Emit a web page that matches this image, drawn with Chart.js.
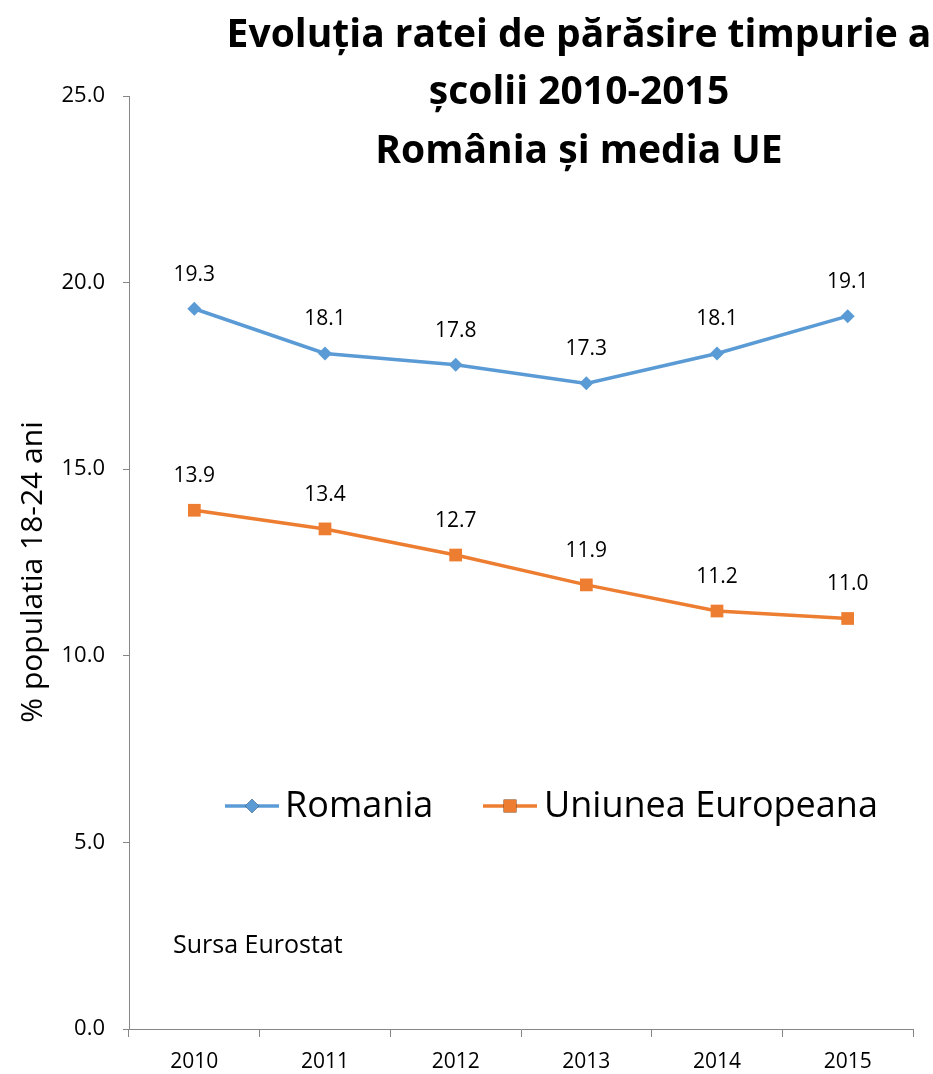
<!DOCTYPE html>
<html>
<head>
<meta charset="utf-8">
<script src="https://cdn.jsdelivr.net/npm/chart.js@4"></script>
<style>
  html, body { margin: 0; padding: 0; background: #ffffff; }
  #wrap { width: 933px; height: 1074px; }
</style>
</head>
<body>
<div id="wrap"><canvas id="chart" width="933" height="1074"></canvas></div>
<script>
// Evolutia ratei de parasire timpurie a scolii, Romania vs UE

const years = ['2010', '2011', '2012', '2013', '2014', '2015'];
const romania = [19.3, 18.1, 17.8, 17.3, 18.1, 19.1];
const ue = [13.9, 13.4, 12.7, 11.9, 11.2, 11.0];
const titleLines = ['Evoluția ratei de părăsire timpurie a', 'școlii 2010-2015', 'România și media UE'];
const seriesNames = ['Romania', 'Uniunea Europeana'];
const yAxisTitle = '% populatia 18-24 ani';
const sourceNote = 'Sursa Eurostat';

const BLUE = '#5B9BD5';
const ORANGE = '#ED7D31';
const FONT = '"Open Sans", Lato, sans-serif';

// --- Title, labels, legend and source note ---

const extras = {
    id: 'extras',
    afterDatasetsDraw(chart) {
        const ctx = chart.ctx;
        ctx.save();

        // value labels above the points
        ctx.fillStyle = '#000';
        ctx.font = '21px ' + FONT;
        ctx.textAlign = 'center';
        ctx.textBaseline = 'middle';
        chart.data.datasets.forEach((ds, i) => {
            chart.getDatasetMeta(i).data.forEach((pt, j) => {
                ctx.fillText(ds.data[j].toFixed(1), pt.x, pt.y - 34);
            });
        });

        // title
        ctx.font = 'bold 39px ' + FONT;
        ctx.textBaseline = 'alphabetic';
        const baselines = [47, 104, 163];
        titleLines.forEach((line, i) => ctx.fillText(line, 579, baselines[i]));

        // y axis title
        ctx.save();
        ctx.translate(33, 572);
        ctx.rotate(-Math.PI / 2);
        ctx.font = '30px ' + FONT;
        ctx.textBaseline = 'middle';
        ctx.fillText(yAxisTitle, 0, 0);
        ctx.restore();

        // legend
        const legY = 806;
        const items = [
            { x: 225, textX: 285, ds: chart.data.datasets[0] },
            { x: 483, textX: 544, ds: chart.data.datasets[1] }
        ];
        ctx.font = '36px ' + FONT;
        ctx.textAlign = 'left';
        ctx.textBaseline = 'middle';
        items.forEach((it, i) => {
            ctx.strokeStyle = it.ds.borderColor;
            ctx.lineWidth = 3.5;
            ctx.beginPath();
            ctx.moveTo(it.x, legY);
            ctx.lineTo(it.x + 54, legY);
            ctx.stroke();
            Chart.helpers.drawPoint(ctx, {
                pointStyle: it.ds.pointStyle,
                radius: it.ds.pointRadius,
                borderWidth: 0
            }, it.x + 27, legY);
            ctx.fillStyle = it.ds.borderColor;
            ctx.fill();
            ctx.fillStyle = '#000';
            ctx.fillText(seriesNames[i], it.textX, legY + 1);
        });

        // source
        ctx.font = '25px ' + FONT;
        ctx.fillText(sourceNote, 173, 946);

        ctx.restore();
    }
};

const ctx = document.getElementById('chart').getContext('2d');

new Chart(ctx, {
    type: 'line',
    data: {
        labels: years,
        datasets: [{
            label: seriesNames[0],
            data: romania,
            borderColor: BLUE,
            backgroundColor: BLUE,
            borderWidth: 3.5,
            pointStyle: 'rectRot',
            pointRadius: 7,
            pointBorderWidth: 0,
            tension: 0
        }, {
            label: seriesNames[1],
            data: ue,
            borderColor: ORANGE,
            backgroundColor: ORANGE,
            borderWidth: 3.5,
            pointStyle: 'rect',
            pointRadius: 9,
            pointBorderWidth: 0,
            tension: 0
        }]
    },
    options: {
        responsive: false,
        animation: false,
        layout: { padding: { top: 96, right: 20, bottom: 0, left: 0 } },
        plugins: {
            legend: { display: false },
            title: { display: false },
            tooltip: { enabled: false }
        },
        scales: {
            x: {
                offset: true,
                grid: { offset: true, drawOnChartArea: false, tickLength: 8, color: '#868686' },
                border: { color: '#868686', width: 1 },
                ticks: { color: '#000', font: { family: FONT, size: 21 }, padding: 12 },
                afterFit: (s) => { s.height = 45; }
            },
            y: {
                min: 0,
                max: 25,
                ticks: {
                    stepSize: 5,
                    color: '#000',
                    font: { family: FONT, size: 22 },
                    padding: 18,
                    callback: (v) => Number(v).toFixed(1)
                },
                grid: { drawOnChartArea: false, tickLength: 6, color: '#868686' },
                border: { color: '#868686', width: 1 },
                afterFit: (s) => { s.width = 129; }
            }
        }
    },
    plugins: [extras]
});
</script>
</body>
</html>
